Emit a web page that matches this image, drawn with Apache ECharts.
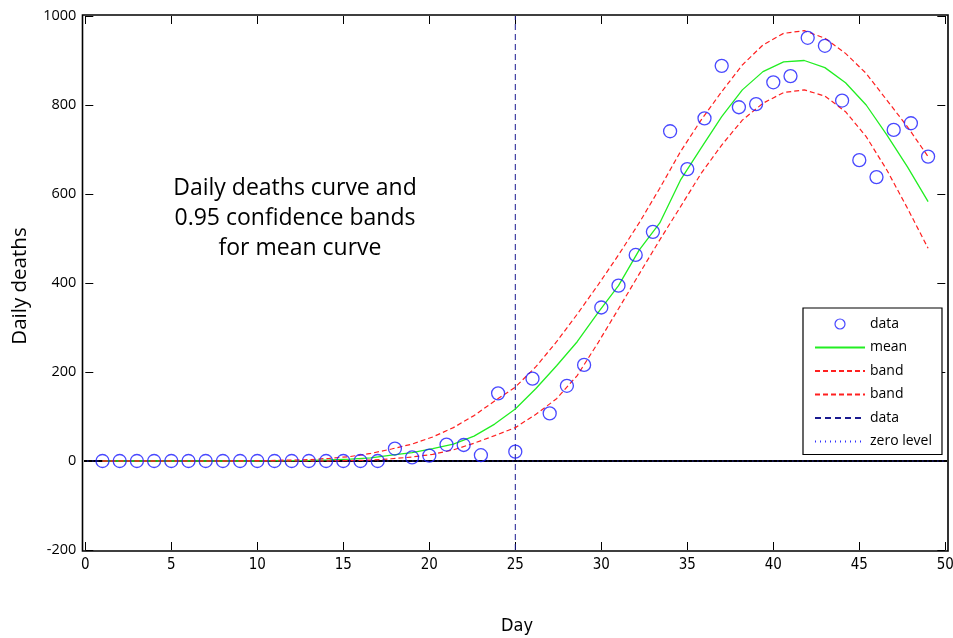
<!DOCTYPE html>
<html><head><meta charset="utf-8">
<script src="https://cdn.jsdelivr.net/npm/echarts@6/dist/echarts.min.js"></script>
<style>html,body{margin:0;padding:0;background:#fff}#c{width:953px;height:638px}</style>
</head><body><div id="c"></div>
<script>
// observed daily deaths (day 1..49)
const days = [1,2,3,4,5,6,7,8,9,10,11,12,13,14,15,16,17,18,19,20,21,22,23,24,25,26,27,28,29,30,31,32,33,34,35,36,37,38,39,40,41,42,43,44,45,46,47,48,49];
const deaths = [0,0,0,0,0,0,0,0,0,0,0,0,0,0,0,0,0,28,8,12,37,36,13,152,21,185,107,169,216,345,394,463,515,741,656,770,888,795,802,851,865,951,933,810,676,638,744,759,684];
// fitted curve evaluation points
const curveX = [1,2.2,3.4,4.6,5.8,7,8.2,9.4,10.6,11.8,13,14.2,15.4,16.6,17.8,19,20.2,21.4,22.6,23.8,25,26.2,27.4,28.6,29.8,31,32.2,33.4,34.6,35.8,37,38.2,39.4,40.6,41.8,43,44.2,45.4,46.6,47.8,49];
const meanCurve = [0,0,0,0,0,0,0,0,0.5,1,1.5,2.5,4,7,13,19,28,38,56,83,117,163,214,268,333,394,474,535,631,703,774,834,875,897,900,884,850,800,733,661,583];
const upperBand = [0,0,0,0,0,0,0,0.5,1,2,3,6,10,17,27,38,54,75,102,135,166,212,268,330,395,463,535,613,695,766,830,890,935,961,967,950,916,871,811,751,684];
const lowerBand = [0,0,0,0,0,0,0,0,0,0,0,0.5,1,2,5,9,15,25,40,57,75,105,140,192,265,342,420,497,571,646,710,766,804,828,834,820,785,729,654,568,478];
const markerDay = 25;
const yRange = [-200, 1000];
const xRange = [0, 50];
const annotation = ['Daily deaths curve and', '0.95 confidence bands', 'for mean curve'];
const legendNames = ['data', 'mean', 'band', 'band ', 'data ', 'zero level'];

const chart = echarts.init(document.getElementById('c'));
const pair = (xs, ys) => xs.map((x, i) => [x, ys[i]]);
const axisCommon = {
  type: 'value', splitLine: {show: false},
  axisLine: {show: false, onZero: false},
  axisTick: {show: true, inside: true, length: 8, lineStyle: {color: '#000', width: 1}}
};
const noSym = {color: 'rgba(0,0,0,0)', borderWidth: 0, opacity: 0};
chart.setOption({
  animation: false,
  backgroundColor: '#fff',
  grid: {left: 85.3, right: 7.7, top: 16, bottom: 88, outerBoundsMode: 'none'},
  xAxis: [
    Object.assign({}, axisCommon, {min: xRange[0], max: xRange[1], interval: 5, position: 'bottom',
      axisLabel: {color: '#000', fontSize: 15, fontFamily: 'DejaVu Sans Condensed', margin: 8}}),
    Object.assign({}, axisCommon, {min: xRange[0], max: xRange[1], interval: 5, position: 'top', axisLabel: {show: false}})
  ],
  yAxis: [
    Object.assign({}, axisCommon, {min: yRange[0], max: yRange[1], interval: 200, position: 'left',
      axisLabel: {color: '#000', fontSize: 14.5, fontFamily: 'Open Sans', margin: 9, formatter: v => String(v)}}),
    Object.assign({}, axisCommon, {min: yRange[0], max: yRange[1], interval: 200, position: 'right', axisLabel: {show: false}})
  ],
  legend: {
    data: [
      {name: legendNames[0], itemStyle: {color: 'rgba(0,0,0,0)', borderColor: '#1a1aff', borderWidth: 1.2}},
      {name: legendNames[1], itemStyle: noSym},
      {name: legendNames[2], itemStyle: noSym},
      {name: legendNames[3], itemStyle: noSym},
      {name: legendNames[4], itemStyle: noSym},
      {name: legendNames[5], itemStyle: noSym}
    ],
    orient: 'vertical', left: 803, top: 308,
    padding: [9, 10, 6, 11], itemWidth: 50, itemHeight: 10, itemGap: 9.5,
    borderColor: '#000', borderWidth: 1.2, backgroundColor: '#fff',
    formatter: n => n.trim(),
    textStyle: {color: '#000', fontSize: 14, fontFamily: 'Open Sans'}
  },
  graphic: [
    {type: 'rect', z: 100, shape: {x: 82.5, y: 15, width: 865.5, height: 536},
      style: {fill: 'none', stroke: '#000', lineWidth: 1.6}, silent: true},
    {type: 'text', x: 295, y: 188, style: {text: annotation[0], fontSize: 23, fontFamily: 'Open Sans', fill: '#000', align: 'center', verticalAlign: 'middle'}},
    {type: 'text', x: 295, y: 218, style: {text: annotation[1], fontSize: 23, fontFamily: 'Open Sans', fill: '#000', align: 'center', verticalAlign: 'middle'}},
    {type: 'text', x: 300, y: 248, style: {text: annotation[2], fontSize: 23, fontFamily: 'Open Sans', fill: '#000', align: 'center', verticalAlign: 'middle'}},
    {type: 'text', x: 20, y: 286, rotation: Math.PI / 2, style: {text: 'Daily deaths', fontSize: 20.5, fontFamily: 'Open Sans', fill: '#000', align: 'center', verticalAlign: 'middle'}},
    {type: 'text', x: 517, y: 626, style: {text: 'Day', fontSize: 18, fontFamily: 'DejaVu Sans Condensed', fill: '#000', align: 'center', verticalAlign: 'middle'}}
  ],
  series: [
    {name: 'zeroAxis', type: 'line', data: [[-0.17, 0], [50.17, 0]], symbol: 'none', silent: true, clip: false,
      lineStyle: {color: '#000', width: 2}, z: 1},
    {name: 'data', type: 'scatter', data: pair(days, deaths), symbol: 'circle', symbolSize: 13,
      itemStyle: {color: 'rgba(255,255,255,0)', borderColor: '#1a1aff', borderWidth: 1.3}, z: 6},
    {name: 'mean', type: 'line', data: pair(curveX, meanCurve), symbol: 'none', itemStyle: {color: '#22ee22'},
      lineStyle: {color: '#22ee22', width: 1.3}, z: 4},
    {name: 'band', type: 'line', data: pair(curveX, upperBand), symbol: 'none', itemStyle: {color: '#ff2020'},
      lineStyle: {color: '#ff2020', width: 1.2, type: [5, 3]}, z: 4},
    {name: 'band ', type: 'line', data: pair(curveX, lowerBand), symbol: 'none', itemStyle: {color: '#ff2020'},
      lineStyle: {color: '#ff2020', width: 1.2, type: [5, 3]}, z: 4},
    {name: 'data ', type: 'line', data: [[markerDay, yRange[0]], [markerDay, yRange[1]]], symbol: 'none', itemStyle: {color: '#1a1a90'},
      lineStyle: {color: '#1a1a90', width: 1, type: [6, 4]}, z: 3},
    {name: 'zero level', type: 'line', data: [[-0.17, 0], [50.17, 0]], symbol: 'none', clip: false, itemStyle: {color: '#3030ff'},
      lineStyle: {color: '#3030ff', width: 1, type: [1, 4]}, z: 2}
  ]
});
</script></body></html>
